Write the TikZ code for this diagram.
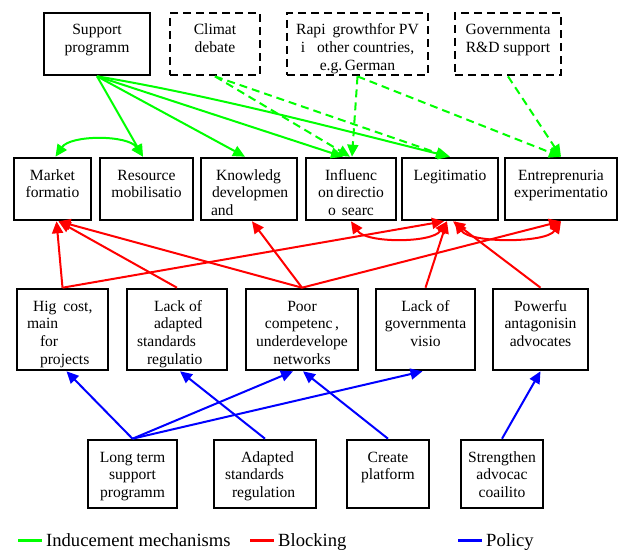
\documentclass[tikz,border=0pt]{standalone}
\usepackage{fontspec}
\setmainfont{Liberation Serif}
\usetikzlibrary{arrows.meta,calc}
\definecolor{indg}{RGB}{0,255,0}
\definecolor{blkr}{RGB}{255,0,0}
\definecolor{polb}{RGB}{0,0,255}
\newcommand{\bxc}[3]{\parbox[c][#2pt][t]{#1pt}{\centering\rule{0pt}{22pt}#3}}
\newcommand{\bxl}[3]{\parbox[c][#2pt][t]{#1pt}{\raggedright\rule{0pt}{22pt}#3}}
\begin{document}
\begin{tikzpicture}[x=1pt,y=-1pt,
  box/.style={draw, line width=2.6pt, inner sep=0pt, font=\fontsize{15.6pt}{17.7pt}\selectfont},
  dbox/.style={box, line width=2.8pt, dash pattern=on 8pt off 5pt},
  ind/.style={draw=indg, line width=2pt, -{Triangle[length=12pt,width=11pt]}},
  inddash/.style={ind, dash pattern=on 8pt off 5pt},
  indboth/.style={draw=indg, line width=2pt, {Triangle[length=12pt,width=11pt]}-{Triangle[length=12pt,width=11pt]}},
  blk/.style={draw=blkr, line width=2pt, -{Triangle[length=12pt,width=11pt]}},
  blkboth/.style={draw=blkr, line width=2pt, {Triangle[length=12pt,width=11pt]}-{Triangle[length=12pt,width=11pt]}},
  pol/.style={draw=polb, line width=2pt, -{Triangle[length=12pt,width=11pt]}},
  legtext/.style={anchor=base west, inner sep=0pt, font=\fontsize{18.6pt}{20pt}\selectfont},
  legline/.style={line width=3.5pt}
]
\useasboundingbox (0,0) rectangle (622,551);

% Row 1
\node[box]  (sup) at (97,44)    {\bxc{106}{62}{Support\\programm}};
\node[dbox] (cli) at (215,44)   {\bxc{90}{62}{Climat\\debate}};
\node[dbox] (rap) at (357.5,44) {\bxc{141}{62}{Rapi\hspace{7pt}growthfor PV\\i\hspace{12pt}other countries,\\e.g.\,German}};
\node[dbox] (gov) at (508,44)   {\bxc{106}{62}{Governmenta\\R\&D support}};

% Row 2
\node[box] (mkt) at (52.5,189)  {\bxc{77}{62}{Market\\formatio}};
\node[box] (res) at (146.5,189) {\bxc{93}{62}{Resource\\mobilisatio}};
\node[box] (kno) at (249,189)   {\bxl{96}{62}{\hspace*{15pt}Knowledg\\\hspace*{11pt}developmen\\\hspace*{10pt}and}};
\node[box] (inf) at (351,189)   {\bxc{90}{62}{Influenc\\on\,directio\\o\hspace{6pt}searc}};
\node[box] (leg) at (450,189)   {\bxc{96}{62}{Legitimatio}};
\node[box] (ent) at (561,189)   {\bxc{112}{62}{Entreprenuria\\experimentatio}};

% Row 3
\node[box] (hig)  at (62.5,329.5)  {\bxl{91}{81}{\hspace*{16pt}Hig\hspace{7pt}cost,\\\hspace*{10pt}main\\\hspace*{23pt}for\\\hspace*{23pt}projects}};
\node[box] (lad)  at (177,329.5)   {\bxl{100}{81}{\hspace*{27pt}Lack of\\\hspace*{27pt}adapted\\\hspace*{10pt}standards\\\hspace*{20pt}regulatio}};
\node[box] (poor) at (302,329.5)   {\bxc{112}{81}{Poor\\competenc\,,\\underdevelope\\networks}};
\node[box] (lgv)  at (425.5,329.5) {\bxc{99}{81}{Lack of\\governmenta\\visio}};
\node[box] (pow)  at (540.5,329.5) {\bxc{95}{81}{Powerfu\\antagonisin\\advocates}};

% Row 4
\node[box] (lts) at (132.5,474) {\bxc{89}{68}{Long term\\support\\programm}};
\node[box] (ads) at (265,474)   {\bxl{102}{68}{\hspace*{27pt}Adapted\\\hspace*{11pt}standards\\\hspace*{18pt}regulation}};
\node[box] (cpl) at (388,474)   {\bxc{82}{68}{Create\\platform}};
\node[box] (str) at (502,474)   {\bxc{82}{68}{Strengthen\\advocac\\coailito}};

% Inducement (green)
\draw[indboth] ([xshift=3pt]mkt.north) .. controls +(15,-22) and +(-15,-22) .. ([xshift=-3.5pt]res.north);
\draw[ind] (sup.south) -- ([xshift=-3.5pt]res.north);
\draw[ind] (sup.south) -- ([xshift=-4pt]kno.north);
\draw[ind] (sup.south) -- ([xshift=-8pt]inf.north);
\draw[ind] (sup.south) .. controls +(120,20) and +(-90,-22) .. (leg.north);
\draw[inddash] (cli.south) -- ([xshift=-1pt]inf.north);
\draw[inddash] (cli.south) -- ([xshift=-2pt]leg.north);
\draw[inddash] (rap.south) -- ([xshift=1pt]inf.north);
\draw[inddash] (rap.south) -- (ent.north);
\draw[inddash] (gov.south) -- (ent.north);

% Blocking (red)
\draw[blk] (hig.north) -- ([xshift=4pt]mkt.south);
\draw[blk] (lad.north) -- ([xshift=6pt]mkt.south);
\draw[blk] (poor.north) -- ([xshift=6pt]mkt.south);
\draw[blk] (poor.north) -- ([xshift=3pt]kno.south);
\draw[blk] (poor.north) -- (ent.south);
\draw[blk] (hig.north) -- ([xshift=-6pt]leg.south);
\draw[blk] (lgv.north) -- ([xshift=-3pt]leg.south);
\draw[blk] (pow.north) -- ([xshift=3pt]leg.south);
\draw[blkboth] (inf.south) .. controls +(15,22) and +(-15,22) .. ([xshift=-3pt]leg.south);
\draw[blkboth] ([xshift=5pt]leg.south) .. controls +(15,22) and +(-15,22) .. (ent.south);

% Policy (blue)
\draw[pol] (lts.north) -- ([xshift=4pt]hig.south);
\draw[pol] (lts.north) -- ([xshift=-9pt]poor.south);
\draw[pol] (lts.north) -- ([xshift=-3pt]lgv.south);
\draw[pol] (ads.north) -- ([xshift=3pt]lad.south);
\draw[pol] (cpl.north) -- ([xshift=1pt]poor.south);
\draw[pol] (str.north) -- (pow.south);

% Legend
\draw[legline, indg] (18,540.5) -- (42,540.5);
\node[legtext] (l1) at (46,546.5) {Inducement mechanisms};
\draw[legline, blkr] (250,540.5) -- (274,540.5);
\node[legtext] (l2) at (278,546.5) {Blocking};
\draw[legline, polb] (458,540.5) -- (482,540.5);
\node[legtext] (l3) at (486,546.5) {Policy};
\end{tikzpicture}
\end{document}
